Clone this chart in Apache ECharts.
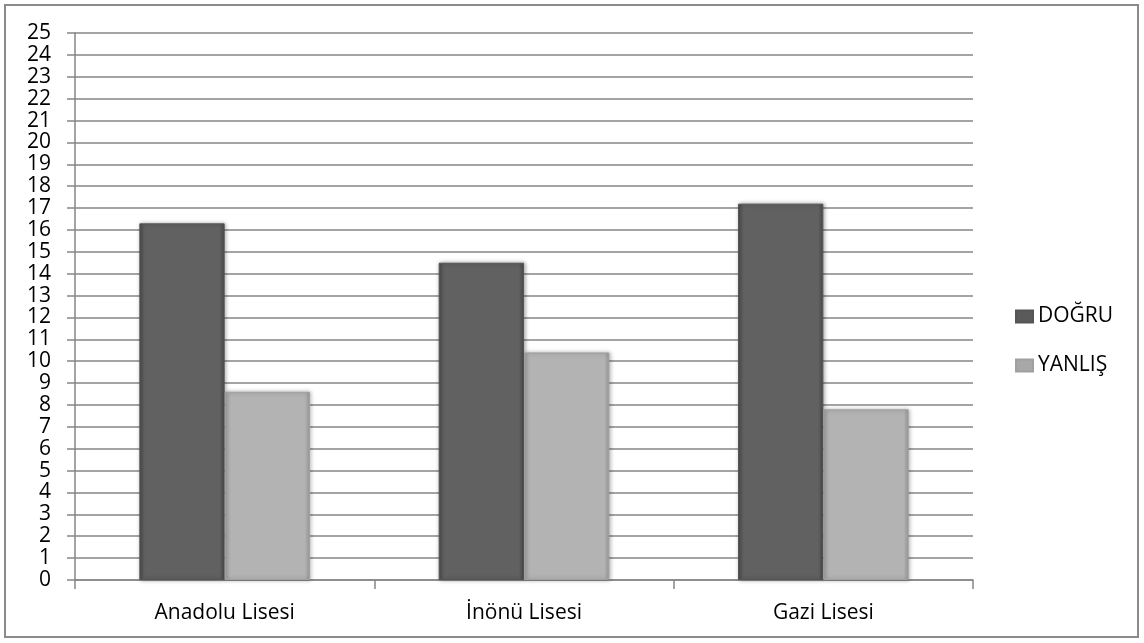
<!DOCTYPE html>
<html><head><meta charset="utf-8">
<script src="https://cdn.jsdelivr.net/npm/echarts@6/dist/echarts.min.js"></script>
<style>html,body{margin:0;padding:0;background:#fff}#c{width:1144px;height:643px}</style>
</head><body><div id="c"></div>
<script>
const categories = ['Anadolu Lisesi', 'İnönü Lisesi', 'Gazi Lisesi'];
const dogru = [16.3, 14.5, 17.2];
const yanlis = [8.6, 10.4, 7.8];
const seriesNames = ['DOĞRU', 'YANLIŞ'];

const font = '"Open Sans", "DejaVu Sans", sans-serif';
function bevel(c1, c2, c3) {
  return new echarts.graphic.LinearGradient(0, 0, 1, 0, [
    {offset: 0, color: c1}, {offset: 0.06, color: c2}, {offset: 0.94, color: c2}, {offset: 1, color: c3}
  ]);
}
const chart = echarts.init(document.getElementById('c'));
chart.setOption({
  animation: false,
  backgroundColor: '#fff',
  graphic: [{type: 'rect', shape: {x: 5, y: 5, width: 1133, height: 632}, style: {fill: 'none', stroke: '#8a8a8a', lineWidth: 2}}],
  grid: {left: 75, right: 171, top: 33, bottom: 63},
  legend: {
    orient: 'vertical', left: 1015, top: 306, padding: 0, itemGap: 28, itemWidth: 17, itemHeight: 12,
    icon: 'rect',
    textStyle: {fontFamily: font, fontSize: 21, color: '#000'},
    data: [{name: seriesNames[0], itemStyle: {color: '#5a5a5a'}}, {name: seriesNames[1], itemStyle: {color: '#a8a8a8'}}]
  },
  xAxis: {
    type: 'category', data: categories,
    axisLine: {lineStyle: {color: '#868686', width: 1.5}},
    axisTick: {show: true, length: 9, lineStyle: {color: '#868686', width: 1.5}},
    axisLabel: {fontFamily: font, fontSize: 21, color: '#000', margin: 23}
  },
  yAxis: {
    type: 'value', min: 0, max: 25, interval: 1,
    axisLine: {show: true, lineStyle: {color: '#868686', width: 1.5}},
    axisTick: {show: true, length: 8, lineStyle: {color: '#868686', width: 1.5}},
    axisLabel: {fontFamily: font, fontSize: 21, color: '#000', margin: 24, lineHeight: 20},
    splitLine: {lineStyle: {color: '#868686', width: 1.5}}
  },
  series: [
    {name: seriesNames[0], type: 'bar', data: dogru, barWidth: '28.5%', barGap: '0%',
     itemStyle: {color: bevel('#4a4a4a', '#616161', '#4a4a4a'), borderColor: '#555', borderWidth: 1,
       shadowColor: 'rgba(0,0,0,0.35)', shadowBlur: 4, shadowOffsetX: 1}},
    {name: seriesNames[1], type: 'bar', data: yanlis, barWidth: '28.5%', barGap: '0%',
     itemStyle: {color: bevel('#9a9a9a', '#b3b3b3', '#9a9a9a'), borderColor: '#a0a0a0', borderWidth: 1,
       shadowColor: 'rgba(0,0,0,0.3)', shadowBlur: 4, shadowOffsetX: 1}}
  ]
});
</script></body></html>
